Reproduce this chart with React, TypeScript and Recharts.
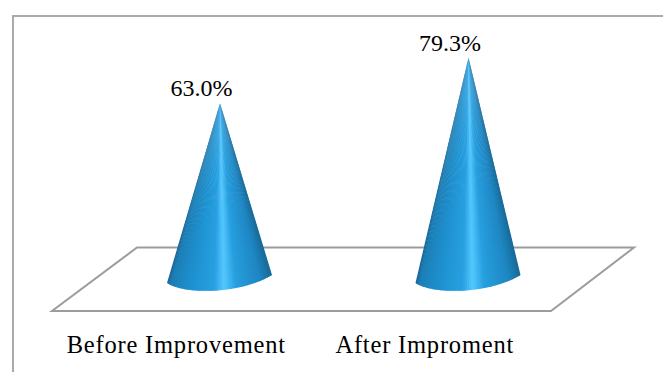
import React from 'react';
import { BarChart, Bar, XAxis, YAxis, LabelList } from 'recharts';

const categories = ['Before Improvement', 'After Improment'];
const improvement = [63.0, 79.3];

const data = categories.map((name, i) => ({ name, value: improvement[i] }));

// colour across the cone, left edge to right edge
const shading: [number, number[]][] = [
  [0, [24, 100, 145]],
  [0.06, [28, 125, 180]],
  [0.3, [30, 145, 208]],
  [0.5, [40, 160, 225]],
  [0.58, [84, 200, 255]],
  [0.68, [38, 158, 222]],
  [0.88, [30, 135, 195]],
  [1, [24, 105, 150]],
];

const shadeAt = (t: number) => {
  let k = 0;
  while (k < shading.length - 2 && t > shading[k + 1][0]) k++;
  const [t0, c0] = shading[k];
  const [t1, c1] = shading[k + 1];
  const f = (t - t0) / (t1 - t0);
  const c = c0.map((v, j) => Math.round(v + (c1[j] - v) * f));
  return `rgb(${c[0]},${c[1]},${c[2]})`;
};

const Cone = (props: any) => {
  const { x, y, width, height } = props;
  const cx = x + width / 2;
  const base = y + height;
  const p0 = [x, base + 4];
  const p1 = [x + width * 0.17, base + 16];
  const p2 = [x + width * 0.7, base + 15];
  const p3 = [x + width, base - 4];
  const pt = (t: number) => {
    const u = 1 - t;
    const a = u * u * u, b = 3 * u * u * t, c = 3 * u * t * t, d = t * t * t;
    return [a * p0[0] + b * p1[0] + c * p2[0] + d * p3[0], a * p0[1] + b * p1[1] + c * p2[1] + d * p3[1]];
  };
  const slices = [];
  const n = 60;
  // each slice runs a bit under the next one so no seams show
  for (let i = 0; i < n; i++) {
    const a = pt(i / n);
    const b = pt(Math.min(1, (i + 1.6) / n));
    slices.push(
      <path key={i} d={`M${cx + 0.5},${y} L${a[0]},${a[1]} L${b[0]},${b[1]} Z`} fill={shadeAt((i + 0.5) / n)} />
    );
  }
  return <g>{slices}</g>;
};

const App = () => {
  return (
    <div style={{ position: 'absolute', left: 0, top: 0, width: 663, height: 372, background: '#fff', overflow: 'hidden' }}>
      <div style={{ position: 'absolute', left: 12, top: 15, right: 0, bottom: 0, borderTop: '2px solid #aaaaaa', borderLeft: '2px solid #aaaaaa' }} />
      <div style={{ position: 'absolute', left: 0, top: 0 }}>
        <BarChart
          width={663}
          height={372}
          data={data}
          barSize={105}
          margin={{ top: 0, right: 71, left: 95, bottom: 63 }}
        >
          <polygon points="137,247.5 634,247.5 551,311 52,311" fill="none" stroke="#9c9c9c" strokeWidth={2} />
          <XAxis
            dataKey="name"
            axisLine={false}
            tickLine={false}
            interval={0}
            height={30}
            dy={49}
            dx={-43}
            tick={{ fontFamily: 'Liberation Serif', fontSize: 24.5, letterSpacing: 0.8, fill: '#000' }}
          />
          <YAxis hide domain={[0, 100]} />
          <Bar dataKey="value" shape={<Cone />} isAnimationActive={false}>
            <LabelList
              dataKey="value"
              position="top"
              offset={7}
              dx={-18}
              formatter={(v: any) => `${Number(v).toFixed(1)}%`}
              style={{ fontFamily: 'Liberation Serif', fontSize: 24, fill: '#000' }}
            />
          </Bar>
        </BarChart>
      </div>
    </div>
  );
};

export default App;
